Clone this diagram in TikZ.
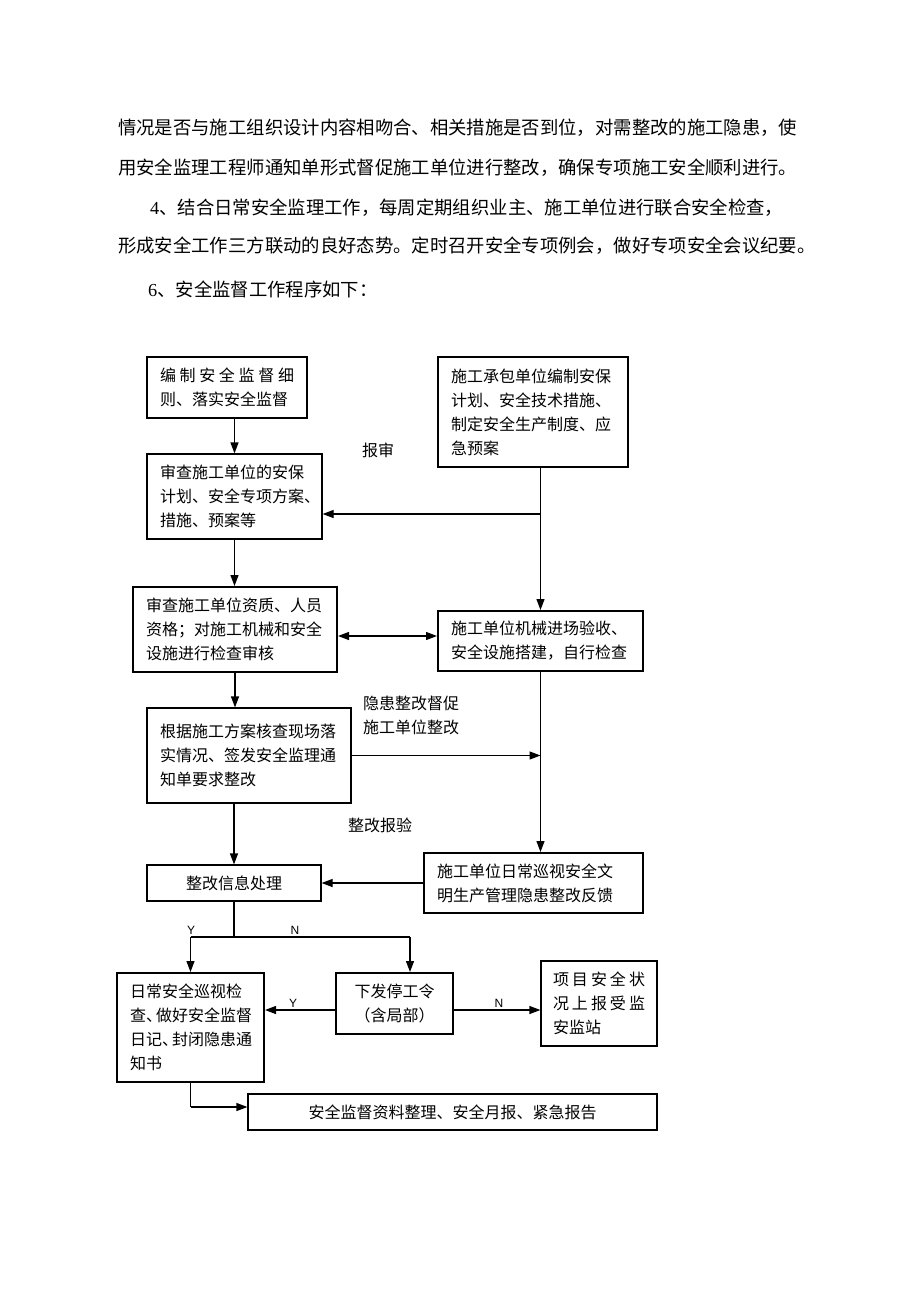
\documentclass[tikz,border=0pt]{standalone}
\usepackage{fontspec}
\setmainfont{Noto Sans CJK SC}
\newfontfamily\lserif{Liberation Serif}
\newfontfamily\lsans{Liberation Sans}
\usetikzlibrary{arrows.meta}
\begin{document}
\begin{tikzpicture}[x=1pt,y=-1pt,
  box/.style={draw, line width=1.2pt, inner xsep=13pt, inner ysep=0pt, align=left, font=\fontsize{16}{24}\selectfont},
  thickbox/.style={box, line width=2pt},
  cbox/.style={draw, line width=1.2pt, inner sep=0pt, align=center, font=\fontsize{16}{24}\selectfont},
  arr/.style={-{Triangle[length=11pt,width=8pt]}, line width=1.2pt},
  arrtwo/.style={{Triangle[length=11pt,width=8pt]}-{Triangle[length=11pt,width=8pt]}, line width=1.2pt},
  ln/.style={line width=1.2pt},
  lbl/.style={inner sep=0pt, font=\fontsize{16}{24}\selectfont},
  yn/.style={inner sep=0pt, font=\lsans\fontsize{12}{14}\selectfont},
  para/.style={inner sep=0pt, anchor=west, font=\fontsize{18.35}{22}\selectfont}]
\useasboundingbox (0,0) rectangle (920,1302);
\fill[white] (0,0) rectangle (920,1302);

% paragraph text
\node[para] (t1) at (118,128) {情况是否与施工组织设计内容相吻合、相关措施是否到位，对需整改的施工隐患，使};
\node[para] (t2) at (118,168) {用安全监理工程师通知单形式督促施工单位进行整改，确保专项施工安全顺利进行。};
\node[para] (t3) at (150,208) {{\lserif 4}、结合日常安全监理工作，每周定期组织业主、施工单位进行联合安全检查，};
\node[para] (t4) at (118,246) {形成安全工作三方联动的良好态势。定时召开安全专项例会，做好专项安全会议纪要。};
\node[para] (t5) at (148,289) {{\lserif 6}、安全监督工作程序如下：};

% boxes
\node[box, text width=134pt, minimum height=61pt] (b1) at (227,387.5)
  {\makebox[134pt]{编\hfill 制\hfill 安\hfill 全\hfill 监\hfill 督\hfill 细}\\则、落实安全监督};
\node[box, text width=164pt, minimum height=110pt] (r1) at (533,412)
  {施工承包单位编制安保\\计划、安全技术措施、\\制定安全生产制度、应\\急预案};
\node[box, text width=149pt, minimum height=85pt] (b2) at (234.5,496.5)
  {审查施工单位的安保\\计划、安全专项方案、\\措施、预案等};
\node[thickbox, text width=178pt, minimum height=85pt] (b3) at (235,629.5)
  {审查施工单位资质、人员\\资格；对施工机械和安全\\设施进行检查审核};
\node[thickbox, text width=179pt, minimum height=60pt] (r2) at (540.5,641)
  {施工单位机械进场验收、\\安全设施搭建，自行检查};
\node[box, text width=178pt, minimum height=95pt] (b4) at (249,755.5)
  {根据施工方案核查现场落\\实情况、签发安全监理通\\知单要求整改};
\node[cbox, minimum width=174pt, minimum height=36pt] (b5) at (234,883) {整改信息处理};
\node[thickbox, text width=193pt, minimum height=60pt] (r3) at (533.5,883)
  {施工单位日常巡视安全文\\明生产管理隐患整改反馈};
\node[thickbox, text width=121pt, minimum height=109pt] (b6) at (190.5,1027.5)
  {日常安全巡视检\\查、\kern-6pt 做好安全监督\\日记、\kern-6pt 封闭隐患通\\知书};
\node[cbox, line width=2pt, minimum width=117pt, minimum height=61pt] (b7) at (394.5,1003.5)
  {下发停工令\\（含局部）};
\node[box, inner xsep=12pt, text width=92pt, minimum height=85pt] (b9) at (599,1003.5)
  {\makebox[92pt]{项\hfill 目\hfill 安\hfill 全\hfill 状}\\\makebox[92pt]{况\hfill 上\hfill 报\hfill 受\hfill 监}\\安监站};
\node[cbox, minimum width=409pt, minimum height=36pt] (b8) at (452.5,1112)
  {安全监督资料整理、安全月报、紧急报告};

% labels
\node[lbl] (l1) at (378,450) {报审};
\node[lbl, anchor=west, align=left] (l2) at (363,715) {隐患整改督促\\施工单位整改};
\node[lbl] (l3) at (380,825) {整改报验};
\node[yn] (y1) at (191,930) {Y};
\node[yn] (n1) at (295,930) {N};
\node[yn] (y2) at (293,1003) {Y};
\node[yn] (n2) at (499,1003) {N};

% connectors
\coordinate (jA) at (540.5,514);
\coordinate (jB) at (0,636);
\coordinate (jC) at (234,937);
\coordinate (jL) at (190.5,937);
\coordinate (jR) at (410,937);
\coordinate (jD) at (0,1010);
\coordinate (jE) at (190.5,1107);

\draw[arr] (b2.north |- b1.south) -- (b2.north);
\draw[arr] (r2.north |- r1.south) -- (r2.north);
\draw[arr] (jA) -- (b2.east |- jA);
\draw[arr] (b2.south) -- (b2.south |- b3.north);
\draw[arrtwo] (b3.east |- jB) -- (r2.west |- jB);
\draw[arr] (b3.south) -- (b3.south |- b4.north);
\draw[arr] (b4.east) -- (r2.south |- b4.east);
\draw[arr] (r2.south) -- (r2.south |- r3.north);
\draw[arr] (b5.north |- b4.south) -- (b5.north);
\draw[arr] (r3.west) -- (b5.east);
\draw[ln] (b5.south) -- (jC);
\draw[ln] (jL) -- (jR);
\draw[arr] (jL) -- (b6.north);
\draw[arr] (jR) -- (jR |- b7.north);
\draw[arr] (b7.west |- jD) -- (b6.east |- jD);
\draw[arr] (b7.east |- jD) -- (b9.west |- jD);
\draw[ln] (b6.south) -- (jE);
\draw[arr] (jE) -- (b8.west |- jE);
\end{tikzpicture}
\end{document}
